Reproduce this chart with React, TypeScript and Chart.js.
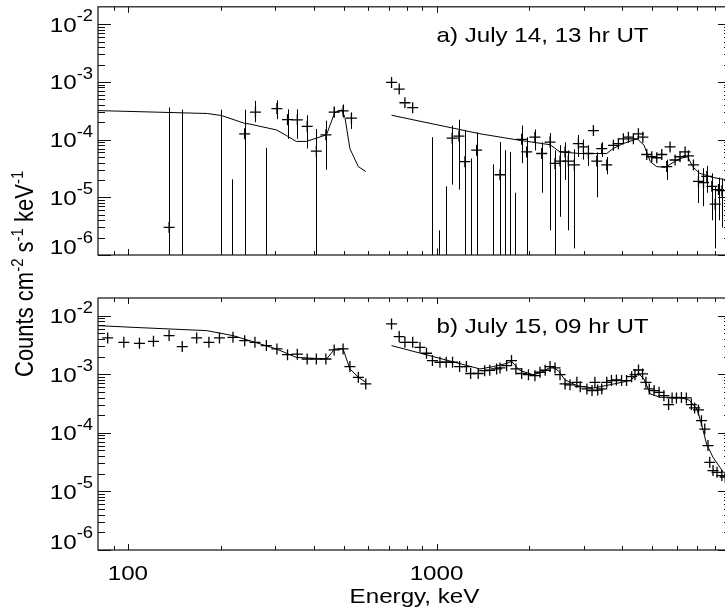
import React, { useEffect, useRef } from "react";
import { Chart, registerables } from "chart.js";

Chart.register(...registerables);

// ---------- axes ----------
const X_MIN = 80;
const X_MAX = 9000;
const Y_MIN = 1e-6;
const Y_MAX = 2e-2;

const xTickValues = [100, 1000];
const xTickLabels = ["100", "1000"];
const yTickValues = [1e-6, 1e-5, 1e-4, 1e-3, 1e-2];
const yTickExponents = ["-6", "-5", "-4", "-3", "-2"];

const panelALabel = "a) July 14, 13 hr UT";
const panelBLabel = "b) July 15, 09 hr UT";
const xTitle = "Energy, keV";
const yTitleParts: [string, string][] = [
  ["Counts cm", "-2"],
  [" s", "-1"],
  [" keV", "-1"],
];

// ---------- panel a: July 14 ----------
const aEnergy = [
  136, 150, 201, 218, 239, 259, 281, 304, 329, 354, 381, 408, 438, 466, 498, 530,
  715, 757, 790, 837, 970, 1000, 1021, 1073, 1124, 1182, 1236, 1290, 1349, 1528,
  1606, 1667, 1730, 1796, 1888, 1959, 2084, 2192, 2333, 2421, 2513, 2609, 2674,
  2797, 2882, 2992, 3106, 3224, 3306, 3431, 3562, 3743, 3884, 4032, 4186, 4345,
  4510, 4662, 4800, 4983, 5172, 5368, 5572, 5712, 5929, 6153, 6390, 6550, 6801,
  7060, 7330, 7515, 7800, 8000, 8200, 8410,
];
const aCounts = [
  3.0e-6, null, null, null, 1.26e-4, 3.0e-4, null, 3.44e-4, 2.21e-4, 2.2e-4, 1.7e-4, 6.3e-5, 1.21e-4, 3.0e-4, 3.14e-4, 2.35e-4,
  9.77e-4, 7.5e-4, 4.35e-4, 3.57e-4, null, null, null, null, 1.06e-4, 1.15e-4, 4.14e-5, null, 6.55e-5, null,
  2.46e-5, null, null, null, 1.01e-4, 6.1e-5, 1.1e-4, 5.74e-5, 9.06e-5, 3.87e-5, 4.25e-5, 6.1e-5, 4.25e-5,
  3.64e-5, 8.5e-5, 7.45e-5, 5.74e-5, 1.43e-4, 4.25e-5, 6.97e-5, 3.64e-5, 7.96e-5, 8.5e-5, 1.03e-4, 1.1e-4, 1.03e-4,
  1.26e-4, 1.1e-4, 5.52e-5, 5.04e-5, 4.84e-5, 5.52e-5, 3.4e-5, 7.45e-5, 4.43e-5, 5.04e-5, 6.1e-5, 5.24e-5, 3.64e-5,
  1.89e-5, 1.8e-5, 2.3e-5, 1.55e-5, 7.6e-6, 1.36e-5, 1.3e-5,
];
const aUpper = [
  3.6e-4, 3.3e-4, 3.3e-4, 2.05e-5, 3.3e-4, 4.7e-4, 7.2e-5, 4.8e-4, 3.34e-4, 3.34e-4, 2.64e-4, 1.53e-4, 2.12e-4, 3.57e-4, 4.06e-4, 2.94e-4,
  9.77e-4, 7.5e-4, 4.35e-4, 3.57e-4, 1.1e-4, 1.3e-6, 2.67e-6, 1.55e-5, 1.75e-4, 2.21e-4, 1.43e-4, 4.7e-5, 1.34e-4, 3.72e-5,
  9.06e-5, 6.55e-5, 6.1e-5, 1.2e-5, 1.75e-4, 1.1e-4, 1.5e-4, 9.0e-5, 1.3e-4, 6.5e-5, 8.0e-5, 9.0e-5, 6.5e-5,
  6.8e-5, 1.2e-4, 1.0e-4, 8.0e-5, 1.43e-4, 6.0e-5, 9.0e-5, 5.0e-5, 7.96e-5, 8.5e-5, 1.03e-4, 1.1e-4, 1.03e-4,
  1.26e-4, 1.1e-4, 5.52e-5, 5.04e-5, 4.84e-5, 5.52e-5, 4.5e-5, 7.45e-5, 4.43e-5, 5.04e-5, 6.1e-5, 5.24e-5, 3.64e-5,
  3.0e-5, 3.2e-5, 3.5e-5, 2.6e-5, 1.5e-5, 2.2e-5, 2.1e-5,
];
const aLower = [
  1e-7, 1e-7, 1e-7, 1e-7, 1e-7, 2.0e-4, 1e-7, 2.26e-4, 1.03e-4, 1.03e-4, 7.0e-5, 1e-7, 3.0e-5, 2.42e-4, 2.4e-4, 1.53e-4,
  9.77e-4, 7.5e-4, 4.35e-4, 3.57e-4, 1e-7, 1e-7, 1e-7, 1e-7, 1.66e-5, 1.36e-5, 1e-7, 1e-7, 1e-7, 1e-7,
  1e-7, 1e-7, 1e-7, 1e-7, 3.9e-5, 1e-7, 6.5e-5, 1.2e-5, 2.67e-6, 1e-7, 4.6e-6, 2.0e-5, 2.67e-6,
  1.3e-6, 5.0e-5, 4.5e-5, 3.5e-5, 1.43e-4, 1.0e-5, 5.0e-5, 2.5e-5, 7.96e-5, 8.5e-5, 1.03e-4, 1.1e-4, 1.03e-4,
  1.26e-4, 1.1e-4, 5.52e-5, 5.04e-5, 4.84e-5, 5.52e-5, 2.0e-5, 7.45e-5, 4.43e-5, 5.04e-5, 6.1e-5, 5.24e-5, 3.64e-5,
  8.0e-6, 7.0e-6, 1.2e-5, 4.0e-6, 1.3e-6, 4.0e-6, 3.0e-6,
];
const aModelEnergy = [
  80, 181, 201, 239, 248, 303, 326, 351, 379, 408, 440, 468, 493, 505, 524, 558, 590,
  650,
  715, 1383, 1865, 2333, 2513, 2922, 3562, 3730, 4020, 4470, 4700, 4930, 5170, 5500,
  6153, 6520, 6760, 7110, 7840, 8500, 9000,
];
const aModelCounts = [
  3.18e-4, 2.83e-4, 2.61e-4, 1.91e-4, 1.86e-4, 1.47e-4, 1.18e-4, 9.3e-5, 9.3e-5, 1.06e-4, 1.21e-4, 2.94e-4, 3.27e-4, 2.42e-4, 6.97e-5, 3.4e-5, 2.8e-5,
  null,
  2.64e-4, 1.26e-4, 9.7e-5, 8.15e-5, 6.1e-5, 5.74e-5, 5.74e-5, 6.97e-5, 8.5e-5, 1.03e-4, 8.05e-5, 4.14e-5, 3.4e-5, 3.3e-5,
  4.71e-5, 5.04e-5, 3.4e-5, 2.62e-5, 2.21e-5, 2.05e-5, 2.0e-5,
];

// ---------- panel b: July 15 ----------
const bEnergy = [
  86, 97, 109, 121, 136, 150, 167, 183, 198, 219, 239, 258, 281, 304, 329, 354, 381, 408, 438, 466, 498, 524, 558, 590,
  715, 757, 790, 837, 884, 928, 970, 1026, 1075, 1127, 1188, 1250, 1290, 1365, 1432, 1488, 1566, 1606, 1687, 1750,
  1808, 1888, 1986, 2084, 2165, 2250, 2333, 2421, 2513, 2609, 2708, 2850, 2922, 3072, 3191, 3260, 3329, 3431, 3562,
  3689, 3828, 3978, 4128, 4288, 4397, 4514, 4652, 4770, 4890, 5072, 5262, 5455, 5650, 5800, 5990, 6218, 6451, 6695,
  6860, 7060, 7220, 7400, 7580, 7680, 7870, 8110, 8405, 8620,
];
const bCounts = [
  4.16e-3, 3.51e-3, 3.37e-3, 3.65e-3, 4.56e-3, 2.96e-3, 4.16e-3, 3.51e-3, 4.16e-3, 4.27e-3, 3.74e-3, 3.51e-3, 3.08e-3, 2.7e-3, 2.16e-3, 2.2e-3, 1.82e-3, 1.82e-3, 1.82e-3, 2.6e-3, 2.7e-3, 1.35e-3, 8.86e-4, 6.82e-4,
  7.21e-3, 4.39e-3, 3.51e-3, 3.51e-3, 2.88e-3, 2.28e-3, 1.71e-3, 1.6e-3, 1.6e-3, 1.6e-3, 1.35e-3, 1.35e-3, 1.03e-3, 1.03e-3, 1.15e-3, 1.17e-3, 1.23e-3, 1.28e-3, 1.4e-3, 1.71e-3,
  1.23e-3, 1.03e-3, 9.84e-4, 9.46e-4, 1.08e-3, 1.17e-3, 1.35e-3, 1.28e-3, 9.84e-4, 6.82e-4, 6.6e-4, 7.28e-4, 6.14e-4, 5.61e-4, 5.25e-4, 7.28e-4, 5.37e-4, 5.61e-4, 7.28e-4,
  7.78e-4, 7.98e-4, 7.78e-4, 7.78e-4, 9.1e-4, 9.84e-4, 1.18e-3, 1.01e-3, 7.28e-4, 5.61e-4, 5.25e-4, 4.91e-4, 4.31e-4, 3.03e-4, 3.94e-4, 3.94e-4, 4.0e-4, 3.94e-4, 3.03e-4,
  2.66e-4, 2.46e-4, 1.61e-4, 1.16e-4, 6.05e-5, 3.14e-5, 2.27e-5, 2.12e-5, 1.86e-5, 1.76e-5,
];
const bModelEnergy = [
  80, 104, 180, 219, 248, 303, 351, 440, 468, 498, 524, 558, 590,
  650,
  715, 1383, 1528, 1687, 1750, 1857, 2050, 2165, 2360, 2480, 2609, 2850, 3220, 3745, 4240, 4514, 4700, 4930,
  5300, 6150, 6600, 6980, 7220, 7500, 7870, 8500, 9000,
];
const bModelCounts = [
  6.75e-3, 6.31e-3, 5.55e-3, 4.56e-3, 3.74e-3, 2.7e-3, 1.94e-3, 1.82e-3, 2.7e-3, 2.7e-3, 1.23e-3, 8.9e-4, 7.28e-4,
  null,
  3.08e-3, 1.23e-3, 1.35e-3, 1.53e-3, 1.66e-3, 1.17e-3, 9.84e-4, 1.05e-3, 1.35e-3, 1.15e-3, 8.0e-4, 6.38e-4, 5.8e-4, 6.8e-4, 7.8e-4, 1.03e-3, 8.3e-4, 4.61e-4,
  4.04e-4, 4.04e-4, 3.6e-4, 2.55e-4, 1.42e-4, 6.45e-5, 3.82e-5, 2.12e-5, 1.8e-5,
];

// ---------- drawing helpers ----------
const FONT = '"Liberation Sans", Arial, Helvetica, sans-serif';
const STRETCH = 1.15;
const CANVAS_W = 760;
const CANVAS_H = 614;

function textWidth(ctx: CanvasRenderingContext2D, text: string, size: number) {
  ctx.save();
  ctx.font = `${size}px ${FONT}`;
  const w = ctx.measureText(text).width * STRETCH;
  ctx.restore();
  return w;
}

function drawText(ctx: CanvasRenderingContext2D, text: string, x: number, y: number, size: number) {
  ctx.save();
  ctx.font = `${size}px ${FONT}`;
  ctx.fillStyle = "#000";
  ctx.textAlign = "left";
  ctx.textBaseline = "alphabetic";
  ctx.translate(x, y);
  ctx.scale(STRETCH, 1);
  ctx.fillText(text, 0, 0);
  ctx.restore();
}

const errorBarPlugin = {
  id: "errorBars",
  afterDatasetsDraw(chart: any) {
    const { ctx, chartArea } = chart;
    const xs = chart.scales.x;
    const ys = chart.scales.y;
    ctx.save();
    ctx.beginPath();
    ctx.rect(chartArea.left, chartArea.top, chartArea.right - chartArea.left, chartArea.bottom - chartArea.top);
    ctx.clip();
    ctx.strokeStyle = "#000";
    ctx.lineWidth = 1;
    chart.data.datasets.forEach((ds: any) => {
      if (!ds.errUpper) return;
      ds.errEnergy.forEach((e: number, i: number) => {
        const hi = ds.errUpper[i];
        const lo = Math.max(ds.errLower[i], Y_MIN / 10);
        if (hi == null || hi <= lo) return;
        const px = Math.round(xs.getPixelForValue(e)) + 0.5;
        ctx.beginPath();
        ctx.moveTo(px, ys.getPixelForValue(hi));
        ctx.lineTo(px, ys.getPixelForValue(lo));
        ctx.stroke();
      });
    });
    ctx.restore();
  },
};

const framePlugin = {
  id: "frame",
  afterDraw(chart: any, _args: any, opts: any) {
    const { ctx, chartArea } = chart;
    const xs = chart.scales.x;
    const ys = chart.scales.y;
    const { left, right, top, bottom } = chartArea;
    ctx.save();
    ctx.strokeStyle = "#222";
    ctx.lineWidth = 1.3;
    ctx.strokeRect(left, top, right - left, bottom - top);

    ctx.lineWidth = 1;
    ctx.strokeStyle = "#111";
    const line = (x1: number, y1: number, x2: number, y2: number) => {
      ctx.beginPath();
      ctx.moveTo(x1, y1);
      ctx.lineTo(x2, y2);
      ctx.stroke();
    };
    // x ticks (top & bottom, inward)
    [10, 100, 1000].forEach((d) => {
      for (let m = 1; m <= 9; m++) {
        const v = m * d;
        if (v <= X_MIN || v >= X_MAX) continue;
        const px = Math.round(xs.getPixelForValue(v)) + 0.5;
        const len = m === 1 ? 6 : 4;
        line(px, bottom, px, bottom - len);
        line(px, top, px, top + len);
      }
    });
    // y ticks (left & right, inward)
    [1e-6, 1e-5, 1e-4, 1e-3, 1e-2].forEach((d) => {
      for (let m = 1; m <= 9; m++) {
        const v = m * d;
        if (v < Y_MIN || v >= Y_MAX) continue;
        const py = Math.round(ys.getPixelForValue(v)) + 0.5;
        const len = m === 1 ? 13 : 7;
        line(left, py, left + len, py);
        line(right, py, right - len, py);
      }
    });
    ctx.restore();

    // y tick labels (lowest one lifted clear of the x axis)
    yTickValues.forEach((v, i) => {
      const py = ys.getPixelForValue(v) - (i === 0 ? 9 : 0);
      const w1 = textWidth(ctx, "10", 21);
      const w2 = textWidth(ctx, yTickExponents[i], 16);
      const xEnd = left - 5;
      drawText(ctx, "10", xEnd - w1 - w2, py + 7.5, 21);
      drawText(ctx, yTickExponents[i], xEnd - w2, py - 3, 16);
    });

    // x tick labels + title
    if (opts.showXLabels) {
      xTickValues.forEach((v, i) => {
        const px = xs.getPixelForValue(v);
        const w = textWidth(ctx, xTickLabels[i], 21);
        drawText(ctx, xTickLabels[i], px - w / 2, bottom + 30, 21);
      });
      const wt = textWidth(ctx, xTitle, 21);
      drawText(ctx, xTitle, (left + right) / 2 - wt / 2, bottom + 53, 21);
    }

    // panel label
    drawText(ctx, opts.label, xs.getPixelForValue(1000), top + opts.labelDy, 21);

    // y title (rotated, spans both panels)
    if (opts.showYTitle) {
      ctx.save();
      ctx.translate(33, 377);
      ctx.scale(STRETCH, 1);
      ctx.rotate(-Math.PI / 2);
      ctx.fillStyle = "#000";
      ctx.textBaseline = "alphabetic";
      ctx.textAlign = "left";
      let x = 0;
      yTitleParts.forEach(([t, s]) => {
        ctx.font = `22px ${FONT}`;
        ctx.fillText(t, x, 0);
        x += ctx.measureText(t).width;
        ctx.font = `15px ${FONT}`;
        ctx.fillText(s, x, -9);
        x += ctx.measureText(s).width;
      });
      ctx.restore();
    }
  },
};

function makeConfig(
  energy: number[],
  counts: (number | null)[],
  upper: number[] | null,
  lower: number[] | null,
  modelE: number[],
  modelV: (number | null)[],
  padding: any,
  frameOpts: any
): any {
  return {
    type: "scatter",
    data: {
      datasets: [
        {
          data: energy.map((e, i) => ({ x: e, y: counts[i] })),
          errEnergy: energy,
          errUpper: upper,
          errLower: lower,
          showLine: false,
          pointStyle: "cross",
          pointRadius: 5.5,
          pointHoverRadius: 5.5,
          borderColor: "#000",
          backgroundColor: "#000",
          borderWidth: 1.3,
          clip: 0,
        },
        {
          data: modelE.map((e, i) => ({ x: e, y: modelV[i] })),
          showLine: true,
          spanGaps: false,
          pointRadius: 0,
          borderColor: "#000",
          borderWidth: 1,
          tension: 0,
          clip: 0,
        },
      ],
    },
    options: {
      responsive: false,
      animation: false,
      events: [],
      layout: { padding },
      plugins: {
        legend: { display: false },
        title: { display: false },
        tooltip: { enabled: false },
        frame: frameOpts,
      },
      scales: {
        x: { type: "logarithmic", min: X_MIN, max: X_MAX, display: false },
        y: { type: "logarithmic", min: Y_MIN, max: Y_MAX, display: false },
      },
    },
    plugins: [errorBarPlugin, framePlugin],
  };
}

export default function App() {
  const refA = useRef<HTMLCanvasElement | null>(null);
  const refB = useRef<HTMLCanvasElement | null>(null);

  useEffect(() => {
    const chartA = new Chart(
      refA.current as HTMLCanvasElement,
      makeConfig(
        aEnergy,
        aCounts,
        aUpper,
        aLower,
        aModelEnergy,
        aModelCounts,
        { left: 98, right: CANVAS_W - 731, top: 3, bottom: CANVAS_H - 255 },
        { label: panelALabel, labelDy: 35, showXLabels: false, showYTitle: false }
      )
    );
    const chartB = new Chart(
      refB.current as HTMLCanvasElement,
      makeConfig(
        bEnergy,
        bCounts,
        null,
        null,
        bModelEnergy,
        bModelCounts,
        { left: 98, right: CANVAS_W - 731, top: 298, bottom: CANVAS_H - 550 },
        { label: panelBLabel, labelDy: 35, showXLabels: true, showYTitle: true }
      )
    );
    return () => {
      chartA.destroy();
      chartB.destroy();
    };
  }, []);

  const canvasStyle: React.CSSProperties = {
    position: "absolute",
    left: 0,
    top: 0,
    width: CANVAS_W,
    height: CANVAS_H,
  };

  return (
    <div
      style={{
        position: "fixed",
        left: 0,
        top: 0,
        width: 725,
        height: 614,
        overflow: "hidden",
        background: "#fff",
      }}
    >
      <canvas ref={refA} width={CANVAS_W} height={CANVAS_H} style={canvasStyle} />
      <canvas ref={refB} width={CANVAS_W} height={CANVAS_H} style={canvasStyle} />
    </div>
  );
}
